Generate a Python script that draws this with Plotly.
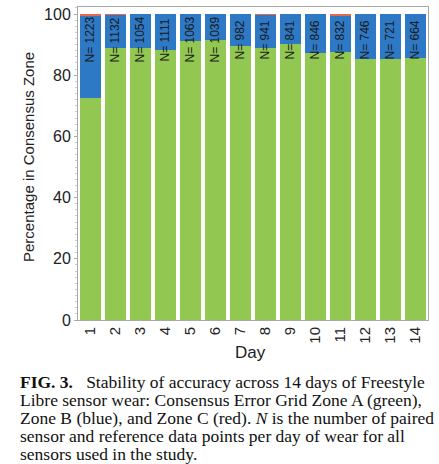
import plotly.graph_objects as go

days = list(range(1, 15))
day_labels = [str(d) for d in days]
zone_a = [72.4, 88.8, 89.0, 88.2, 91.3, 91.5, 89.6, 88.8, 90.2, 87.4, 87.7, 85.3, 85.4, 85.7]
zone_c = [0.5, 0.3, 0.0, 0.0, 0.0, 0.0, 0.0, 0.3, 0.0, 0.0, 0.8, 0.0, 0.0, 0.0]
zone_b = [round(100 - a - c, 2) for a, c in zip(zone_a, zone_c)]
n_points = [1223, 1132, 1054, 1111, 1063, 1039, 982, 941, 841, 846, 832, 746, 721, 664]

caption_lines = [
    "<b>FIG. 3.</b>   Stability of accuracy across 14 days of Freestyle",
    "Libre sensor wear: Consensus Error Grid Zone A (green),",
    "Zone B (blue), and Zone C (red). <i>N</i> is the number of paired",
    "sensor and reference data points per day of wear for all",
    "sensors used in the study.",
]

W, H = 439, 464
L, R, T, B = 78, 11, 7, 144
PW, PH = W - L - R, H - T - B


def px_x(px):
    return (px - L) / PW


def px_y(py):
    return (H - B - py) / PH


fig = go.Figure()
fig.add_trace(go.Bar(x=days, y=zone_a, marker=dict(color="#92C752", line=dict(width=0)), name="Zone A"))
fig.add_trace(go.Bar(x=days, y=zone_b, marker=dict(color="#2D79C5", line=dict(width=0)), name="Zone B"))
fig.add_trace(go.Bar(x=days, y=zone_c, marker=dict(color="#E8654E", line=dict(width=0)), name="Zone C"))

for d, n in zip(days, n_points):
    fig.add_annotation(x=d, y=91.5, xref="x", yref="y", text=f"N= {n}", showarrow=False,
                       xanchor="center", yanchor="middle",
                       textangle=-90, font=dict(family="Liberation Sans, Arial", size=12, color="#1a1a1a"))

for i, line in enumerate(caption_lines):
    fig.add_annotation(x=px_x(19), y=px_y(382 + 18 * i), xref="paper", yref="paper",
                       xanchor="left", yanchor="middle", text=line, showarrow=False, borderpad=0,
                       font=dict(family="Liberation Serif, Times New Roman", size=17.5, color="#111"))

fig.add_annotation(x=px_x(250), y=px_y(352), xref="paper", yref="paper", text="Day",
                   xanchor="center", yanchor="middle",
                   showarrow=False, font=dict(family="Liberation Sans, Arial", size=17, color="#222"))
fig.add_annotation(x=px_x(28), y=px_y(157), xref="paper", yref="paper", text="Percentage in Consensus Zone",
                   xanchor="center", yanchor="middle",
                   textangle=-90, showarrow=False,
                   font=dict(family="Liberation Sans, Arial", size=15, color="#222"))

fig.update_layout(
    width=W, height=H, barmode="stack", bargap=0.16, showlegend=False,
    paper_bgcolor="white", plot_bgcolor="white",
    margin=dict(l=L, r=R, t=T, b=B, autoexpand=False),
    font=dict(family="Liberation Sans, Arial", color="#222"),
)
fig.update_xaxes(
    range=[0.5, 14.5], tickmode="array", tickvals=days, ticktext=day_labels, tickangle=-90,
    tickfont=dict(size=15, color="#222"), showgrid=False, showline=True, linecolor="#aaaaaa",
    linewidth=1, mirror=True, ticks="", zeroline=False, automargin=False,
)
fig.update_yaxes(
    range=[0, 102.3], tickvals=[0, 20, 40, 60, 80, 100], tickfont=dict(size=16, color="#222"),
    showgrid=False, showline=True, linecolor="#aaaaaa", linewidth=1, mirror=True,
    ticks="outside", ticklen=3, tickcolor="#aaaaaa", zeroline=False, automargin=False,
    minor=dict(dtick=2, ticks="outside", ticklen=2, tickcolor="#cccccc"),
)

fig.write_html("out.html", config={"displayModeBar": False},
               post_script="document.body.style.margin='0';document.body.style.overflow='hidden';")
